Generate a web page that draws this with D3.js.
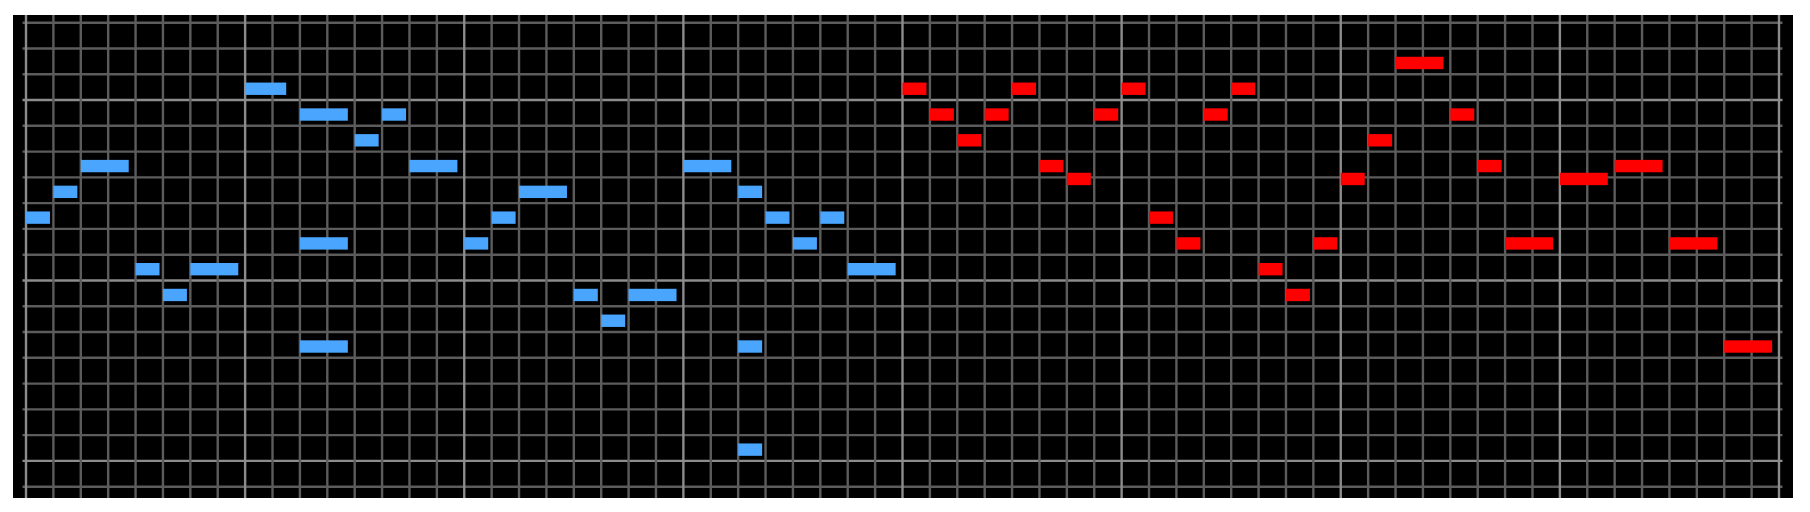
<!DOCTYPE html>
<html>
<head>
<meta charset="utf-8">
<script src="https://cdn.jsdelivr.net/npm/d3@7"></script>
<style>
  html, body { margin: 0; padding: 0; background: #ffffff; }
  svg { display: block; }
</style>
</head>
<body>
<svg id="chart" width="1810" height="512"></svg>
<script>
// Columns are time steps (64 in total); lengths are drawn lengths in columns.
const bluePitch = ["F4","G4","A4","D4","C4","D4","D5","C5","E4","A3","B4","C5","A4","E4","F4","G4","C4","B3","C4","A4","G4","A3","D3","F4","E4","F4","D4"];
const blueStart = [0,1,2,4,5,6,8,10,10,10,12,13,14,16,17,18,20,21,22,24,26,26,26,27,28,29,30];
const blueLen   = [0.875,0.875,1.75,0.875,0.875,1.75,1.5,1.75,1.75,1.75,0.875,0.875,1.75,0.875,0.875,1.75,0.875,0.875,1.75,1.75,0.875,0.875,0.875,0.875,0.875,0.875,1.75];

const redPitch = ["D5","C5","B4","C5","D5","A4","G#4","C5","D5","F4","E4","C5","D5","D4","C4","E4","G#4","B4","E5","C5","A4","E4","G#4","A4","E4","A3"];
const redStart = [32,33,34,35,36,37,38,39,40,41,42,43,44,45,46,47,48,49,50,52,53,54,56,58,60,62];
const redLen   = [0.875,0.875,0.875,0.875,0.875,0.875,0.875,0.875,0.875,0.875,0.875,0.875,0.875,0.875,0.875,0.875,0.875,0.875,1.75,0.875,0.875,1.75,1.75,1.75,1.75,1.75];

const totalSteps = 64;       // time columns
const barSteps = 8;          // brighter line every 8 columns
const topPitch = "F5";       // highest white-key row
const whiteRows = 18;        // number of white-key rows

// ---- helpers ----
const stepIndex = {C:0, D:1, E:2, F:3, G:4, A:5, B:6};
function diatonic(p) {
  const m = p.match(/^([A-G])(#?)(\d)$/);
  return { dn: (+m[3]) * 7 + stepIndex[m[1]], sharp: m[2] === "#" };
}
const topDn = diatonic(topPitch).dn;
function rowOf(p) {
  const d = diatonic(p);
  return (topDn - d.dn) - (d.sharp ? 0.5 : 0);
}

// ---- scales ----
const x = d3.scaleLinear().domain([0, totalSteps]).range([26, 1779]);
const y = d3.scaleLinear().domain([0, whiteRows]).range([22.7, 486.7]);
const rowH = y(1) - y(0);

const svg = d3.select("#chart");

// background
svg.append("rect")
  .attr("x", 13).attr("y", 15)
  .attr("width", 1780).attr("height", 483)
  .attr("fill", "#000000");

const grid = svg.append("g");

// horizontal grid lines (row boundaries); brighter above every C row
grid.selectAll("line.h")
  .data(d3.range(0, whiteRows + 1))
  .join("line")
  .attr("class", "h")
  .attr("x1", x(0) - 3.5).attr("x2", x(totalSteps) + 3.5)
  .attr("y1", d => y(d)).attr("y2", d => y(d))
  .attr("stroke", d => ((topDn - d) % 7 === 0) ? "#8c8c8c" : "#5c5c5c")
  .attr("stroke-width", 2.4);

// vertical grid lines (time columns); brighter every bar
grid.selectAll("line.v")
  .data(d3.range(0, totalSteps + 1))
  .join("line")
  .attr("class", "v")
  .attr("x1", d => x(d)).attr("x2", d => x(d))
  .attr("y1", 15).attr("y2", 498)
  .attr("stroke", d => (d % barSteps === 0) ? "#8c8c8c" : "#5c5c5c")
  .attr("stroke-width", 2.4);

// notes
function drawNotes(pitches, starts, lens, color) {
  const data = pitches.map((p, i) => ({ p, s: starts[i], l: lens[i] }));
  svg.append("g")
    .selectAll("rect")
    .data(data)
    .join("rect")
    .attr("x", d => x(d.s))
    .attr("width", d => x(d.s + d.l) - x(d.s))
    .attr("y", d => y(rowOf(d.p) + 0.5) + 1.6 - rowH * 0.24)
    .attr("height", rowH * 0.48)
    .attr("fill", color);
}
drawNotes(bluePitch, blueStart, blueLen, "#4aa5ff");
drawNotes(redPitch, redStart, redLen, "#ff0000");
</script>
</body>
</html>
